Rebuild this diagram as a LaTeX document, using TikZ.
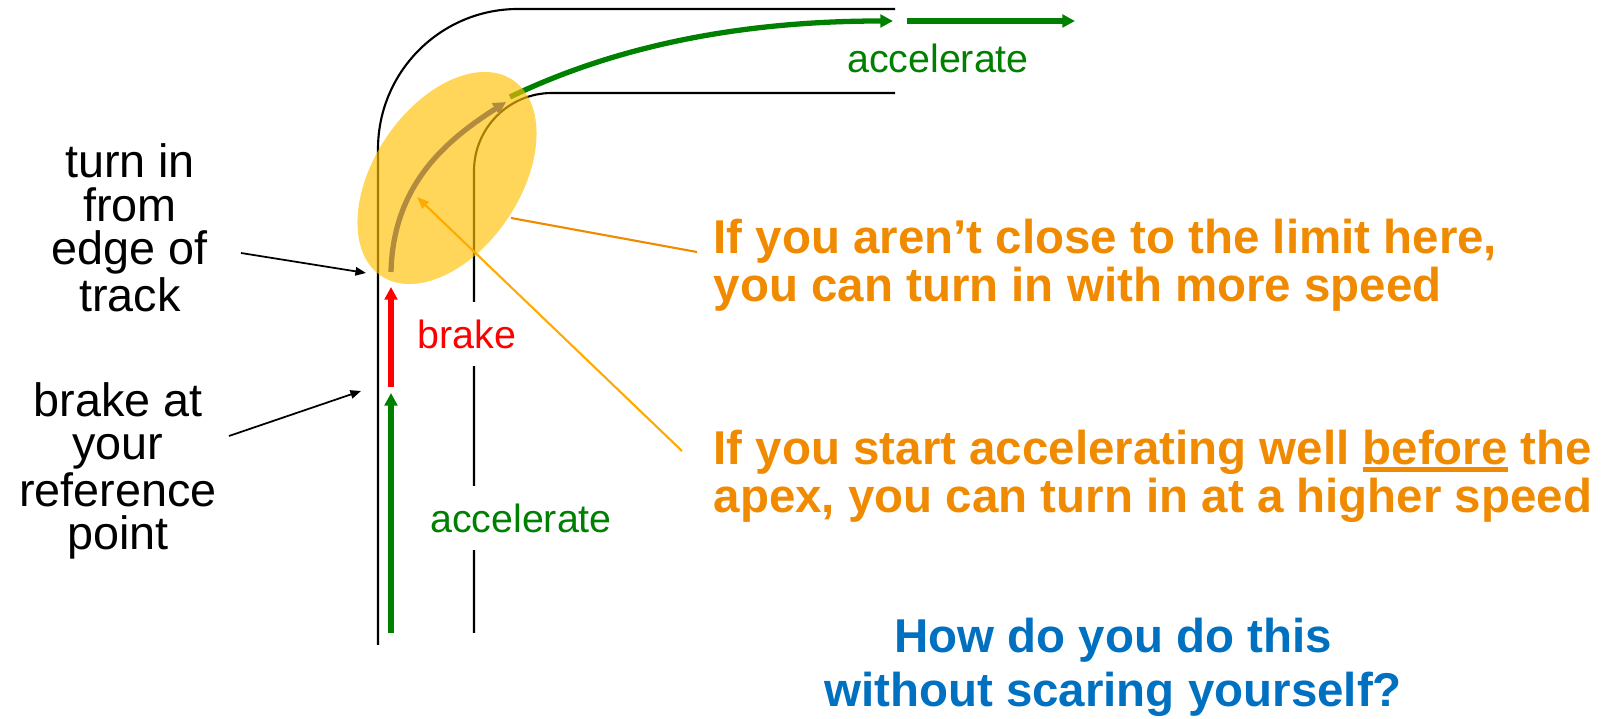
\documentclass[tikz,border=0pt]{standalone}
\usepackage{fontspec}
\setmainfont{Liberation Sans}
\usepackage{tikz}
\usetikzlibrary{arrows.meta,positioning,calc}
\definecolor{PaceGreen}{HTML}{008000}
\definecolor{BrakeRed}{HTML}{FF0000}
\definecolor{ZoneYellow}{HTML}{FFC000}
\definecolor{LineTan}{HTML}{B38B3F}
\definecolor{NoteOrange}{HTML}{F08A00}
\definecolor{PointerOrange}{HTML}{FFAA00}
\definecolor{AskBlue}{HTML}{0070C0}
\newcommand{\heavyul}[1]{\setbox0=\hbox{#1}\rlap{\rule[-0.17em]{\wd0}{0.12em}}\box0\relax}

\begin{document}
\begin{tikzpicture}[x=0.01cm,y=-0.01cm,
  track/.style={line width=0.6pt},
  pace/.style={line width=1.5pt,-{Triangle[length=3.6pt,width=3.6pt]}},
  pointer/.style={line width=0.5pt,-{Triangle[length=3pt,width=2.4pt]}},
  side/.style={font=\fontsize{13.3}{12.3}\selectfont,align=center,inner sep=0pt},
  note/.style={font=\fontsize{13.5}{12.5}\selectfont\bfseries,text=NoteOrange,align=left,anchor=west,inner sep=0pt},
  ask/.style={font=\fontsize{13.5}{15.4}\selectfont\bfseries,text=AskBlue,align=center,inner sep=0pt},
  cue/.style={font=\fontsize{11.2}{13}\selectfont,inner sep=3pt},
  cut/.style={fill=white,minimum height=0.64cm}]
  \useasboundingbox (0,0) rectangle (1608,719);
  % track edges
  \draw[track,rounded corners=1.4cm] (378,645) -- (378,9) -- (895,9);
  \draw[track,rounded corners=0.78cm] (474,633) -- (474,93) -- (895,93);
  % racing line
  \draw[pace,PaceGreen] (391,633) -- (391,393);
  \draw[pace,BrakeRed] (391,387) -- (391,287);
  \draw[pace,PaceGreen] (510,97) .. controls (618,45) and (743,21) .. (893,21);
  \draw[pace,PaceGreen] (907,21) -- (1075,21);
  % corner zone
  \fill[ZoneYellow,fill opacity=0.65,rotate around={56:(447,178)}] (447,178) ellipse [x radius=118, y radius=73];
  \draw[pace,LineTan] (391,272) .. controls (393,182) and (450,138) .. (506,102);
  % labels on the track
  \node[cue,text=PaceGreen] (accelTop) at (938,58) {accelerate};
  \node[cue,cut,text=BrakeRed] (brakeCue) at (467,334) {brake};
  \node[cue,cut,text=PaceGreen] (accelBottom) at (521,518) {accelerate};
  % side notes
  \node[side] (turnin) at (130,228) {turn in\\from\\edge of\\track};
  \node[side] (brakeat) at (118,471) {brake at\\your\\reference\\point};
  \node[note] (notelimit) at (713,265) {If you aren’t close to the limit here,\\you can turn in with more speed};
  \node[note] (noteapex) at (713,476) {If you start accelerating well \heavyul{before} the\\apex, you can turn in at a higher speed};
  \node[ask] (question) at (1113,667) {How do you do this\\without scaring yourself?};
  % pointers
  \coordinate (turnTail) at (241,253);
  \coordinate (turnPt) at (366,273);
  \coordinate (brakeTail) at (229,436);
  \coordinate (brakePt) at (361,391);
  \coordinate (zoneEdge) at (511,218);
  \coordinate (limitEnd) at (697,252);
  \coordinate (apexTail) at (682,451);
  \coordinate (apexPt) at (417,197);
  \draw[pointer] (turnTail) -- (turnPt);
  \draw[pointer] (brakeTail) -- (brakePt);
  \draw[NoteOrange,line width=0.6pt] (zoneEdge) -- (limitEnd);
  \draw[PointerOrange,line width=0.6pt,-{Triangle[length=3.4pt,width=2.6pt]}] (apexTail) -- (apexPt);
\end{tikzpicture}
\end{document}
